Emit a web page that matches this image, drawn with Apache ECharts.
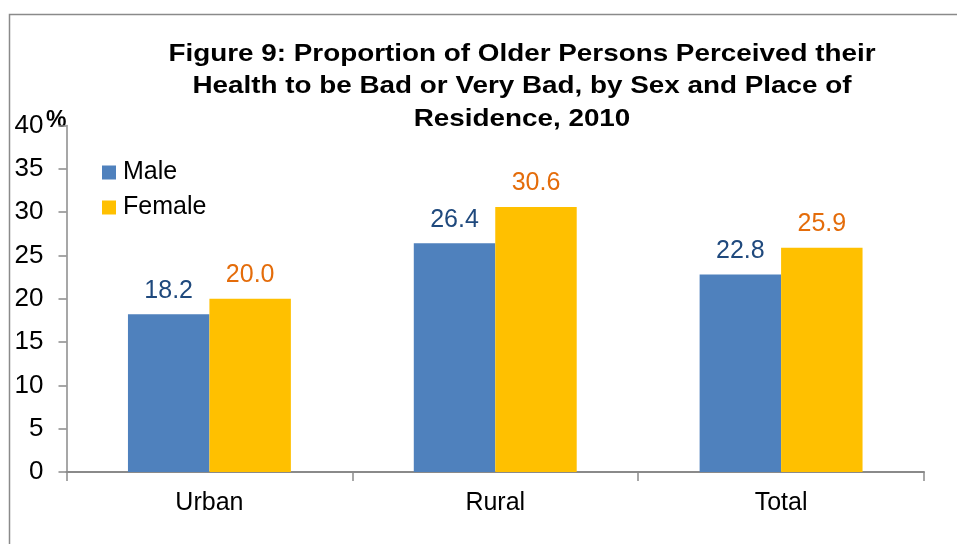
<!DOCTYPE html>
<html>
<head>
<meta charset="utf-8">
<script src="https://cdn.jsdelivr.net/npm/echarts@6/dist/echarts.min.js"></script>
<style>
  html, body { margin: 0; padding: 0; background: #fff; }
  #chart { width: 957px; height: 544px; }
</style>
</head>
<body>
<div id="chart"></div>
<script>
// Perceived bad / very bad health among older persons, 2010 (%)
const categories = ['Urban', 'Rural', 'Total'];
const maleValues = [18.2, 26.4, 22.8];
const femaleValues = [20.0, 30.6, 25.9];
const seriesNames = ['Male', 'Female'];
const titleText = 'Figure 9: Proportion of Older Persons Perceived their\nHealth to be Bad or Very Bad, by Sex and Place of\nResidence, 2010';

const FONT = '"Liberation Sans", Arial, sans-serif';
const AXIS_GREY = '#8a8a8a';

const chart = echarts.init(document.getElementById('chart'), null, { renderer: 'canvas' });

function barSeries(name, data, fill, labelColor) {
  return {
    name: name,
    type: 'bar',
    data: data,
    barGap: '0%',
    barCategoryGap: '43%',
    itemStyle: { color: fill },
    label: {
      show: true,
      position: 'top',
      distance: 11,
      color: labelColor,
      fontFamily: FONT,
      fontSize: 25,
      formatter: p => p.value.toFixed(1)
    }
  };
}

chart.setOption({
  animation: false,
  backgroundColor: '#ffffff',
  textStyle: { fontFamily: FONT },
  legend: {
    orient: 'vertical',
    left: 102,
    top: 160,
    padding: 0,
    itemWidth: 14,
    itemHeight: 14,
    itemGap: 10,
    icon: 'rect',
    textStyle: { fontFamily: FONT, fontSize: 25, color: '#000', lineHeight: 25, padding: [0, 0, 0, 2] },
    data: seriesNames
  },
  grid: { left: 66.5, right: 33, top: 125.5, bottom: 72, containLabel: false },
  xAxis: {
    type: 'category',
    data: categories,
    axisLine: { lineStyle: { color: AXIS_GREY, width: 2 } },
    axisTick: { show: true, length: 9, alignWithLabel: false, lineStyle: { color: AXIS_GREY, width: 1.5 } },
    axisLabel: { fontFamily: FONT, fontSize: 25, color: '#000', margin: 19 }
  },
  yAxis: {
    type: 'value',
    min: 0,
    max: 40,
    interval: 5,
    splitLine: { show: false },
    axisLine: { show: true, lineStyle: { color: AXIS_GREY, width: 1.5 } },
    axisTick: { show: true, length: 8, lineStyle: { color: AXIS_GREY, width: 1.5 } },
    axisLabel: { fontFamily: FONT, fontSize: 26, color: '#000', margin: 23 }
  },
  graphic: [
    {
      type: 'polyline',
      shape: { points: [[9.5, 544], [9.5, 14.5], [957, 14.5]] },
      style: { stroke: AXIS_GREY, lineWidth: 1.5, fill: null }
    },
    {
      // chart title, set a little wider than the plain bold face
      type: 'text',
      x: 522,
      y: 38,
      scaleX: 1.16,
      style: {
        text: titleText,
        x: 0,
        y: 0,
        textAlign: 'center',
        textVerticalAlign: 'top',
        fontFamily: FONT,
        fontSize: 24,
        fontWeight: 'bold',
        lineHeight: 32.5,
        fill: '#000'
      }
    },
    {
      type: 'text',
      left: 46,
      top: 109,
      style: { text: '%', fontFamily: FONT, fontSize: 23, fontWeight: 'bold', fill: '#000' }
    }
  ],
  series: [
    barSeries(seriesNames[0], maleValues, '#4F81BD', '#1F497D'),
    barSeries(seriesNames[1], femaleValues, '#FFC000', '#E46C0A')
  ]
});
</script>
</body>
</html>
